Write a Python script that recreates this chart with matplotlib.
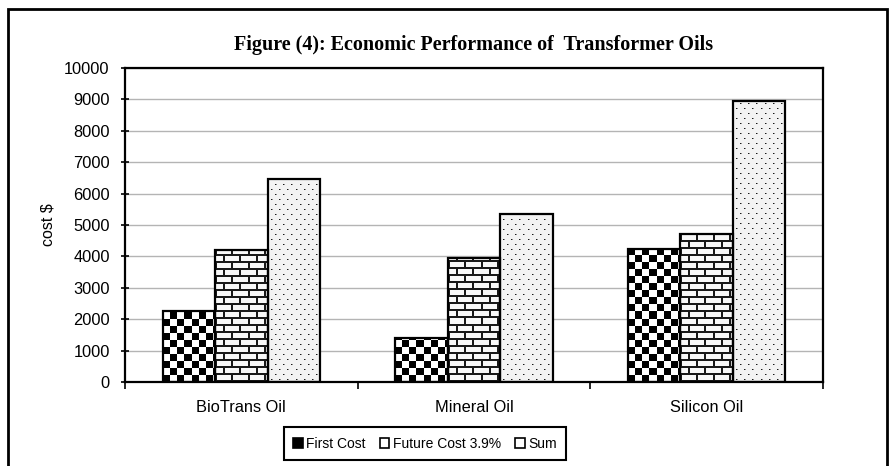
import numpy as np
import matplotlib
matplotlib.use("Agg")
import matplotlib.pyplot as plt
from matplotlib.patches import Patch, Rectangle

categories = ["BioTrans Oil", "Mineral Oil", "Silicon Oil"]
first_cost = [2250, 1400, 4250]
future_cost = [4200, 3950, 4700]
total_cost = [6450, 5350, 8950]
series_names = ["First Cost", "Future Cost 3.9%", "Sum"]
yticks = list(range(0, 10001, 1000))

plt.rcParams['font.family'] = ['Liberation Sans', 'DejaVu Sans']


# textures for the bar fills (0 = black, 1 = white)
def checker(h, w, s=7):
    yy, xx = np.mgrid[0:h, 0:w]
    return ((yy // s + xx // s) % 2).astype(float)


def bricks(h, w, rh=7, bw=16):
    yy, xx = np.mgrid[0:h, 0:w]
    row = yy // rh
    off = (row % 2) * (bw // 2)
    hline = (yy % rh) < 2
    vline = ((xx + off) % bw) < 2
    return np.where(hline | vline, 0.1, 0.97)


def dots(h, w, sx=8, sy=5):
    yy, xx = np.mgrid[0:h, 0:w]
    row = yy // sy
    off = (row % 2) * (sx // 2)
    img = np.full((h, w), 0.95)
    core = ((yy % sy) == 2) & (((xx + off) % sx) == 3)
    halo = ((yy % sy) == 2) & (((xx + off) % sx) == 4)
    img[halo] = 0.55
    img[core] = 0.1
    return img


fig = plt.figure(figsize=(8.95, 4.66), dpi=100)
ax = fig.add_axes([125 / 895, 84 / 466, 698 / 895, 314 / 466])

x = np.arange(len(categories))
bw = 0.225
ax.set_xlim(-0.5, len(categories) - 0.5)
ax.set_ylim(0, 10000)

# pixels per data unit
px_x = 698 / 3
px_y = 314 / 10000

series = [first_cost, future_cost, total_cost]
textures = [checker, bricks, dots]
for i, (vals, tex) in enumerate(zip(series, textures)):
    xs = x + (i - 1) * bw
    for xc, v in zip(xs, vals):
        x0, x1 = xc - bw / 2, xc + bw / 2
        w = max(1, int(round(bw * px_x)))
        h = max(1, int(round(v * px_y)))
        ax.imshow(tex(h, w), cmap='gray', vmin=0, vmax=1, origin='lower',
                  extent=(x0, x1, 0, v), aspect='auto',
                  interpolation='nearest', zorder=2)
    ax.bar(xs, vals, width=bw, facecolor='none', edgecolor='black',
           linewidth=1.6, zorder=3)

ax.set_xlim(-0.5, len(categories) - 0.5)
ax.set_ylim(0, 10000)
ax.set_aspect('auto')

ax.set_yticks(yticks)
ax.set_yticklabels([str(t) for t in yticks], fontsize=11.8)
ax.yaxis.grid(True, color='#b4b4b4', linewidth=1)
ax.set_axisbelow(True)
ax.tick_params(axis='y', direction='inout', length=6, width=1.2, pad=8)

ax.set_xticks(x)
ax.set_xticklabels(categories, fontsize=11.8)
ax.tick_params(axis='x', which='major', length=0, pad=13)
ax.set_xticks(np.arange(-0.5, len(categories)), minor=True)
ax.tick_params(axis='x', which='minor', direction='out', length=5, width=1.2)

for s in ax.spines.values():
    s.set_linewidth(1.6)
    s.set_color('black')

ax.set_ylabel("cost $", fontsize=11.5, labelpad=6)

fig.text(474 / 895, 1 - 45 / 466, "Figure (4): Economic Performance of  Transformer Oils",
         family=['Liberation Serif', 'DejaVu Serif'], fontweight='bold',
         fontsize=14.5, ha='center', va='center')

handles = [Patch(facecolor='black', edgecolor='black', lw=1.2),
           Patch(facecolor='white', edgecolor='black', lw=1.2),
           Patch(facecolor='white', edgecolor='black', lw=1.2)]
leg = fig.legend(handles, series_names, loc='center', ncol=3,
                 bbox_to_anchor=(425 / 895, 1 - 443.5 / 466), fontsize=10,
                 handlelength=0.7, handleheight=0.7, handletextpad=0.25,
                 columnspacing=1.0, borderpad=0.65, fancybox=False,
                 framealpha=1, edgecolor='black')
leg.get_frame().set_linewidth(1.5)

# outer frame around the whole chart
fig.patches.append(Rectangle((8 / 895, -0.1), 879 / 895, 1.1 - 9 / 466,
                             transform=fig.transFigure, fill=False,
                             edgecolor='black', linewidth=2))

fig.savefig("out.png", dpi=100)
